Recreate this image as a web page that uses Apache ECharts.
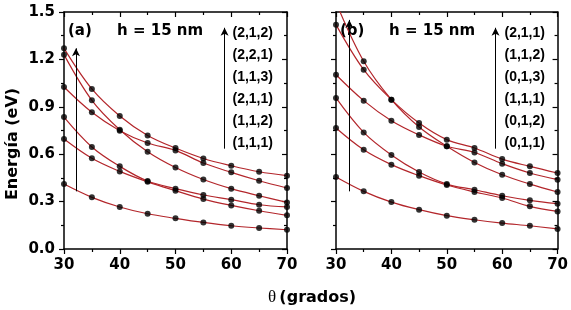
<!DOCTYPE html>
<html>
<head>
<meta charset="utf-8">
<script src="https://cdn.jsdelivr.net/npm/echarts@6/dist/echarts.min.js"></script>
<style>
html, body { margin: 0; padding: 0; background: #fff; }
#chart { width: 571px; height: 310px; }
</style>
</head>
<body>
<div id="chart"></div>
<script>
// angulo theta (grados)
var theta = [30, 35, 40, 45, 50, 55, 60, 65, 70];
var xTicks = [30, 40, 50, 60, 70];
var yTicks = [0.0, 0.3, 0.6, 0.9, 1.2, 1.5];

// panel (a) - energia (eV) por estado
var a212 = [1.27, 1.013, 0.842, 0.719, 0.639, 0.573, 0.527, 0.489, 0.464];
var a221 = [1.23, 0.941, 0.755, 0.616, 0.516, 0.440, 0.382, 0.337, 0.295];
var a113 = [1.025, 0.865, 0.749, 0.671, 0.624, 0.544, 0.485, 0.432, 0.386];
var a211 = [0.835, 0.646, 0.523, 0.430, 0.382, 0.342, 0.312, 0.280, 0.266];
var a112 = [0.696, 0.574, 0.491, 0.425, 0.369, 0.316, 0.276, 0.242, 0.213];
var a111 = [0.411, 0.327, 0.266, 0.223, 0.194, 0.168, 0.147, 0.133, 0.122];
var labelsA = ['(2,1,2)', '(2,2,1)', '(1,1,3)', '(2,1,1)', '(1,1,2)', '(1,1,1)'];

// panel (b)
var b211 = [1.56, 1.188, 0.945, 0.772, 0.650, 0.548, 0.470, 0.411, 0.361];
var b112 = [1.42, 1.135, 0.945, 0.797, 0.692, 0.639, 0.569, 0.523, 0.481];
var b013 = [1.103, 0.939, 0.812, 0.722, 0.650, 0.611, 0.540, 0.481, 0.439];
var b111 = [0.956, 0.738, 0.595, 0.487, 0.411, 0.375, 0.337, 0.308, 0.287];
var b012 = [0.766, 0.628, 0.534, 0.464, 0.405, 0.361, 0.323, 0.270, 0.238];
var b011 = [0.456, 0.365, 0.297, 0.249, 0.211, 0.185, 0.164, 0.147, 0.127];
var labelsB = ['(2,1,1)', '(1,1,2)', '(0,1,3)', '(1,1,1)', '(0,1,2)', '(0,1,1)'];

// flechas (coordenadas de datos)
var arrowA = [[32.15, 0.365], [32.15, 1.27]];
var arrowB = [[32.4, 0.365], [32.4, 1.45]];
var legendArrow = [[58.8, 0.635], [58.8, 1.40]];

var RED = '#b3262b';
var FONT = 'DejaVu Sans';

var chart = echarts.init(document.getElementById('chart'));

function xAxes(grid, top) {
  return {
    type: 'value', gridIndex: grid, position: top ? 'top' : 'bottom',
    min: xTicks[0], max: xTicks[xTicks.length - 1], interval: xTicks[1] - xTicks[0],
    axisLine: { show: true, onZero: false, lineStyle: { color: '#000', width: 1.5 } },
    axisTick: { show: true, inside: top, length: 5, lineStyle: { color: '#000', width: 1.2 } },
    minorTick: { show: true, splitNumber: 2, length: 3, lineStyle: { color: '#000', width: 1.2 } },
    axisLabel: { show: !top, color: '#000', fontFamily: FONT, fontWeight: 'bold', fontSize: 15, margin: 9 },
    splitLine: { show: false }
  };
}

function yAxes(grid, right, labels) {
  return {
    type: 'value', gridIndex: grid, position: right ? 'right' : 'left',
    min: yTicks[0], max: yTicks[yTicks.length - 1], interval: yTicks[1] - yTicks[0],
    axisLine: { show: true, onZero: false, lineStyle: { color: '#000', width: 1.5 } },
    axisTick: { show: true, inside: right, length: 5, lineStyle: { color: '#000', width: 1.2 } },
    minorTick: { show: true, splitNumber: 2, length: 3, lineStyle: { color: '#000', width: 1.2 } },
    axisLabel: {
      show: labels, color: '#000', fontFamily: FONT, fontWeight: 'bold', fontSize: 15, margin: 9,
      formatter: function (v) { return v.toFixed(1); }
    },
    splitLine: { show: false }
  };
}

function panelSeries(axisIdx, curves, arrows) {
  var out = [];
  curves.forEach(function (vals, k) {
    var pts = theta.map(function (t, i) { return [t, vals[i]]; });
    var line = {
      type: 'line', xAxisIndex: axisIdx, yAxisIndex: axisIdx, data: pts,
      smooth: 0.35, showSymbol: false, clip: true, silent: true, z: 2,
      lineStyle: { color: RED, width: 1.2 }
    };
    if (k === 0) {
      line.markLine = {
        silent: true, symbol: ['none', 'arrow'], symbolSize: [6, 8], animation: false,
        label: { show: false },
        lineStyle: { color: '#000', width: 1, type: 'solid' },
        data: arrows.map(function (a) { return [{ coord: a[0] }, { coord: a[1] }]; })
      };
    }
    out.push(line);
    out.push({
      type: 'scatter', xAxisIndex: axisIdx, yAxisIndex: axisIdx, data: pts,
      symbol: 'circle', symbolSize: 6, clip: true, silent: true, z: 3,
      itemStyle: { color: '#000' }
    });
  });
  return out;
}

function panelText(left, tag, labels) {
  var g = [
    { type: 'text', left: left + 4, top: 24, style: { text: tag, font: 'bold 15px "' + FONT + '"', fill: '#000' } },
    { type: 'text', left: left + 53, top: 24, style: { text: 'h = 15 nm', font: 'bold 15px "' + FONT + '"', fill: '#000' } }
  ];
  labels.forEach(function (s, i) {
    g.push({ type: 'text', left: left + 168.5, top: 26 + i * 22,
      style: { text: s, font: 'bold 14px "Liberation Sans"', fill: '#000' } });
  });
  return g;
}

var graphics = [].concat(
  panelText(64, '(a)', labelsA),
  panelText(336, '(b)', labelsB),
  [{
    type: 'text', x: 13, y: 144, rotation: Math.PI / 2,
    style: { text: 'Energía (eV)', font: 'bold 16px "' + FONT + '"', fill: '#000', align: 'center', verticalAlign: 'middle' }
  }, {
    type: 'text', x: 312, y: 298,
    style: {
      text: '{t|θ} {g|(grados)}', align: 'center', verticalAlign: 'middle',
      rich: {
        t: { fontFamily: 'Liberation Serif', fontSize: 17, fill: '#000' },
        g: { fontFamily: FONT, fontWeight: 'bold', fontSize: 16, fill: '#000' }
      }
    }
  }]
);

chart.setOption({
  animation: false,
  backgroundColor: '#fff',
  grid: [
    { left: 64, right: 284, top: 12, bottom: 61 },
    { left: 336, right: 12, top: 12, bottom: 61 }
  ],
  xAxis: [xAxes(0, false), xAxes(0, true), xAxes(1, false), xAxes(1, true)],
  yAxis: [yAxes(0, false, true), yAxes(0, true, false), yAxes(1, false, false), yAxes(1, true, false)],
  series: [].concat(
    panelSeries(0, [a212, a221, a113, a211, a112, a111], [arrowA, legendArrow]),
    panelSeries(2, [b211, b112, b013, b111, b012, b011], [arrowB, legendArrow])
  ),
  graphic: graphics
});
</script>
</body>
</html>
